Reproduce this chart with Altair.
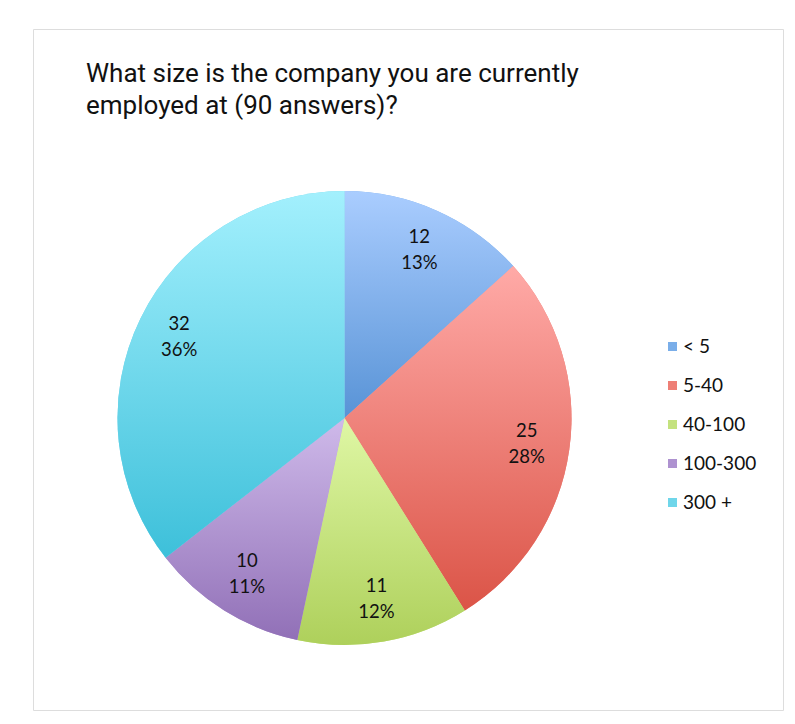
import altair as alt
import pandas as pd

# ---- data ----
categories = ["< 5", "5-40", "40-100", "100-300", "300 +"]
counts = [12, 25, 11, 10, 32]
slice_order = [0, 1, 2, 3, 4]

# ---- styles ----
top_colors = ["#aacdff", "#ffaaa7", "#dff7a5", "#cfbaea", "#a3f0fd"]
bottom_colors = ["#5893d6", "#db5447", "#aed05b", "#9170b7", "#3dc0da"]
legend_colors = ["#7aaee9", "#ee7f76", "#c4e27e", "#ae92d0", "#6fd6ea"]

df = pd.DataFrame({"cat": categories, "count": counts, "order": slice_order})


def grad(top, bottom):
    return {
        "gradient": "linear",
        "x1": 0, "y1": 0, "x2": 0, "y2": 1,
        "stops": [{"offset": 0, "color": top}, {"offset": 1, "color": bottom}],
    }


fill_cond = {
    "condition": [
        {"test": f"datum.cat === '{c}'", "value": grad(t, b)}
        for c, t, b in zip(categories[:-1], top_colors[:-1], bottom_colors[:-1])
    ],
    "value": grad(top_colors[-1], bottom_colors[-1]),
}

CX, CY, R = 311.5, 389, 227

base = alt.Chart(df).transform_joinaggregate(total="sum(count)").transform_calculate(
    label="datum.count + '\\n' + round(datum.count / datum.total * 100) + '%'"
)

theta = alt.Theta("count:Q", stack=True)
order = alt.Order("order:Q")

legend_layer = base.mark_arc(radius=R, strokeWidth=0).encode(
    theta=theta,
    order=order,
    x=alt.value(CX),
    y=alt.value(CY),
    color=alt.Color(
        "cat:N",
        scale=alt.Scale(domain=categories, range=legend_colors),
        sort=categories,
        legend=alt.Legend(
            title=None,
            orient="none",
            legendX=630,
            legendY=308,
            symbolType="square",
            symbolSize=81,
            symbolStrokeWidth=0,
            labelFont="Lato",
            labelFontSize=19,
            labelColor="#111111",
            labelOffset=1,
            rowPadding=19,
            padding=0,
        ),
    ),
)

grad_layer = base.mark_arc(radius=R, strokeWidth=0).encode(
    theta=theta,
    order=order,
    detail="cat:N",
    x=alt.value(CX),
    y=alt.value(CY),
    fill=fill_cond,
)

text_layer = base.mark_text(
    radius=184, lineBreak="\n", font="Lato", fontSize=18.5, lineHeight=26,
    color="#111111", baseline="middle", align="center", dy=-13,
).encode(
    theta=theta,
    order=order,
    detail="cat:N",
    x=alt.value(CX),
    y=alt.value(CY),
    text="label:N",
)

chart = alt.layer(legend_layer, grad_layer, text_layer).properties(
    width=750,
    height=681,
    autosize=alt.AutoSizeParams(type="none"),
    padding={"left": 25, "top": 21, "right": 4, "bottom": 6},
    title=alt.TitleParams(
        text=["What size is the company you are currently", "employed at (90 answers)?"],
        anchor="start",
        frame="group",
        orient="top",
        offset=0,
        baseline="top",
        dx=53,
        dy=90,
        font="Roboto",
        fontSize=26,
        fontWeight="normal",
        color="#111111",
        lineHeight=32,
    ),
).configure_view(stroke="#d2d2d2", strokeWidth=2).configure(background="white")

chart.save("out.html", embed_options={"renderer": "svg", "actions": False})
